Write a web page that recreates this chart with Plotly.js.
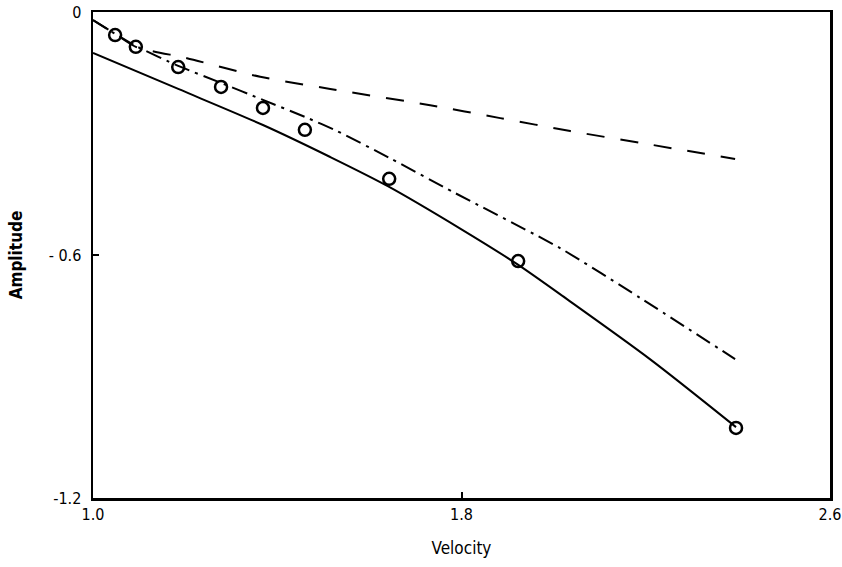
<!DOCTYPE html>
<html>
<head>
<meta charset="utf-8">
<script src="https://cdn.plot.ly/plotly-3.0.1.min.js"></script>
<style>
html,body{margin:0;padding:0;background:#fff;}
#chart{width:842px;height:567px;}
</style>
</head>
<body>
<div id="chart"></div>
<script>
// Measured points (open circles)
const pointsX = [1.048, 1.093, 1.185, 1.278, 1.369, 1.460, 1.643, 1.923, 2.396];
const pointsY = [-0.057, -0.086, -0.136, -0.185, -0.237, -0.291, -0.412, -0.615, -1.027];

// Solid curve
const solidX = [1.000, 1.185, 1.369, 1.515, 1.640, 1.799, 1.920, 2.029, 2.209, 2.396];
const solidY = [-0.101, -0.190, -0.279, -0.358, -0.430, -0.536, -0.622, -0.709, -0.857, -1.025];

// Dash-dot curve
const dashDotX = [1.000, 1.048, 1.093, 1.185, 1.278, 1.369, 1.460, 1.530, 1.643, 1.786, 2.014, 2.188, 2.394];
const dashDotY = [-0.020, -0.054, -0.084, -0.133, -0.175, -0.217, -0.259, -0.294, -0.360, -0.447, -0.583, -0.706, -0.857];

// Dashed curve
const dashedX = [1.000, 1.048, 1.093, 1.204, 1.363, 1.515, 1.732, 1.884, 2.036, 2.188, 2.394];
const dashedY = [-0.020, -0.054, -0.086, -0.114, -0.160, -0.190, -0.230, -0.262, -0.294, -0.323, -0.363];

// Tick labels
const xTickVals = [1.0, 1.8, 2.6];
const xTickText = ["1.0", "1.8", "2.6"];
const yTickVals = [0, -0.6, -1.2];
const yTickText = ["0", "- 0.6", "-1.2"];

const FONT = "DejaVu Sans Condensed, DejaVu Sans, sans-serif";

const traces = [
  {x: solidX, y: solidY, mode: "lines", line: {color: "#000", width: 2, shape: "spline", smoothing: 0.8}, name: "solid", hoverinfo: "skip"},
  {x: dashDotX, y: dashDotY, mode: "lines", line: {color: "#000", width: 2, dash: "16px,6px,3px,6px", shape: "spline", smoothing: 0.6}, name: "dash-dot", hoverinfo: "skip"},
  {x: dashedX, y: dashedY, mode: "lines", line: {color: "#000", width: 2, dash: "18px,16px", shape: "spline", smoothing: 0.6}, name: "dashed", hoverinfo: "skip"},
  {x: pointsX, y: pointsY, mode: "markers", marker: {symbol: "circle-open", size: 12, color: "#000", line: {width: 2.5, color: "#000"}}, name: "data"}
];

const layout = {
  width: 842, height: 567,
  margin: {l: 93, r: 12, t: 12, b: 69},
  paper_bgcolor: "#fff", plot_bgcolor: "#fff",
  showlegend: false,
  font: {family: FONT, size: 15, color: "#000"},
  xaxis: {
    range: [1.0, 2.6],
    tickvals: xTickVals, ticktext: xTickText,
    ticks: "inside", ticklen: 6, tickwidth: 2, tickcolor: "#000",
    showline: true, linecolor: "#000", linewidth: 2.5, mirror: true,
    showgrid: false, zeroline: false,
    tickfont: {family: FONT, size: 16},
    title: {text: "Velocity", font: {family: FONT, size: 17}, standoff: 20}
  },
  yaxis: {
    range: [-1.2, 0],
    tickvals: yTickVals, ticktext: yTickText,
    ticks: "inside", ticklen: 6, tickwidth: 2, tickcolor: "#000",
    ticklabelstandoff: 6,
    showline: true, linecolor: "#000", linewidth: 2.5, mirror: true,
    showgrid: false, zeroline: false,
    tickfont: {family: FONT, size: 16},
    title: {text: "Amplitude", font: {family: FONT, size: 17, weight: 600}, standoff: 22}
  }
};

Plotly.newPlot("chart", traces, layout, {displayModeBar: false, staticPlot: true});
</script>
</body>
</html>
